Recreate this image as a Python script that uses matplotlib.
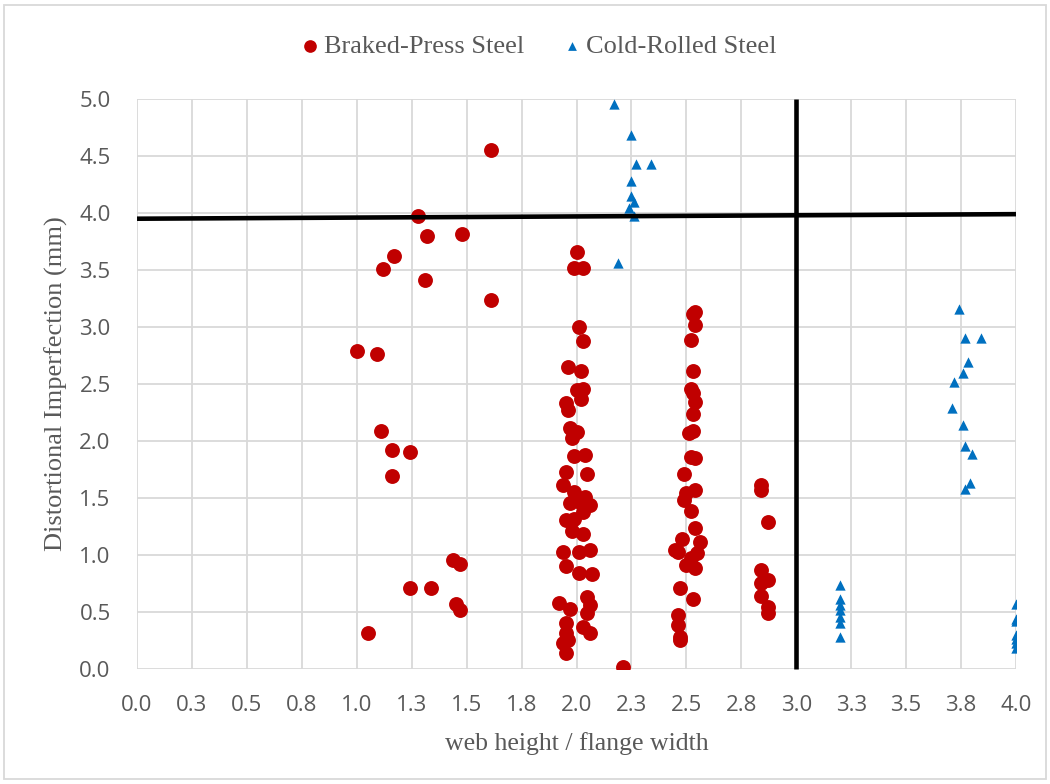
import matplotlib
matplotlib.use("Agg")
import matplotlib.pyplot as plt
from matplotlib.patches import Rectangle

# Braked-press steel specimens: (web height / flange width, distortional imperfection in mm)
braked_x = [1.00, 1.05, 1.09, 1.11, 1.12, 1.16, 1.16, 1.17, 1.24, 1.24, 1.28, 1.32, 1.31,
            1.34, 1.44, 1.45, 1.47, 1.47, 1.48, 1.61, 1.61, 2.21,
            2.00, 1.99, 2.03, 2.01, 2.03, 1.96, 2.02, 2.00, 2.03, 2.02, 1.95, 1.96, 1.97,
            2.00, 1.98, 1.99, 2.04, 1.95, 2.05, 1.94, 1.99, 2.04, 1.97, 2.02, 2.06, 2.03,
            1.95, 1.99, 1.98, 2.03, 1.94, 2.01, 2.06, 1.95, 2.01, 2.07, 2.05, 2.06, 1.92,
            1.97, 2.05, 1.95, 1.95, 2.03, 2.06, 1.96, 1.94, 1.95,
            2.53, 2.54, 2.54, 2.52, 2.53, 2.52, 2.53, 2.54, 2.53, 2.51, 2.53, 2.52, 2.54,
            2.49, 2.54, 2.50, 2.49, 2.52, 2.54, 2.48, 2.56, 2.45, 2.46, 2.55, 2.52, 2.50,
            2.54, 2.47, 2.53, 2.46, 2.46, 2.47, 2.47,
            2.84, 2.84, 2.87, 2.84, 2.87, 2.84, 2.84, 2.87, 2.87]
braked_y = [2.79, 0.32, 2.76, 2.09, 3.51, 1.92, 1.69, 3.62, 1.90, 0.71, 3.97, 3.80, 3.41,
            0.71, 0.96, 0.57, 0.92, 0.52, 3.82, 4.55, 3.24, 0.02,
            3.66, 3.52, 3.52, 3.00, 2.88, 2.65, 2.61, 2.45, 2.46, 2.37, 2.33, 2.27, 2.11,
            2.08, 2.03, 1.87, 1.88, 1.73, 1.71, 1.61, 1.55, 1.51, 1.46, 1.46, 1.44, 1.38,
            1.31, 1.32, 1.21, 1.18, 1.03, 1.03, 1.04, 0.90, 0.84, 0.83, 0.63, 0.56, 0.58,
            0.53, 0.49, 0.40, 0.32, 0.37, 0.32, 0.25, 0.23, 0.14,
            3.11, 3.13, 3.02, 2.89, 2.61, 2.46, 2.42, 2.34, 2.24, 2.07, 2.09, 1.86, 1.85,
            1.71, 1.57, 1.54, 1.48, 1.39, 1.24, 1.14, 1.11, 1.04, 1.03, 1.02, 0.97, 0.91,
            0.89, 0.71, 0.61, 0.47, 0.39, 0.28, 0.25,
            1.61, 1.57, 1.29, 0.87, 0.78, 0.75, 0.64, 0.54, 0.49]

# Cold-rolled steel specimens
cold_x = [2.17, 2.25, 2.27, 2.34, 2.25, 2.25, 2.26, 2.24, 2.26, 2.19,
          3.20, 3.20, 3.20, 3.20, 3.20, 3.20, 3.20,
          3.74, 3.77, 3.84, 3.78, 3.76, 3.72, 3.71, 3.76, 3.77, 3.80, 3.79, 3.77,
          4.00, 4.00, 4.00, 4.00, 4.00, 4.00, 4.00]
cold_y = [4.96, 4.68, 4.43, 4.43, 4.28, 4.15, 4.10, 4.04, 3.97, 3.56,
          0.74, 0.61, 0.56, 0.52, 0.46, 0.40, 0.28,
          3.16, 2.90, 2.90, 2.69, 2.60, 2.52, 2.29, 2.14, 1.96, 1.89, 1.63, 1.58,
          0.57, 0.44, 0.42, 0.30, 0.26, 0.23, 0.18]

# Limit lines
limit_v_x = [3.0, 3.0]
limit_v_y = [0.0, 5.0]
limit_h_x = [0.0, 4.0]
limit_h_y = [3.95, 3.99]

x_ticks = [i * 0.25 for i in range(17)]
x_tick_labels = ["0.0", "0.3", "0.5", "0.8", "1.0", "1.3", "1.5", "1.8", "2.0",
                 "2.3", "2.5", "2.8", "3.0", "3.3", "3.5", "3.8", "4.0"]
y_ticks = [i * 0.5 for i in range(11)]
y_tick_labels = ["0.0", "0.5", "1.0", "1.5", "2.0", "2.5", "3.0", "3.5", "4.0", "4.5", "5.0"]

RED = "#C00000"
BLUE = "#0070C0"
GRID = "#D9D9D9"
TEXT = "#595959"

fig = plt.figure(figsize=(10.5, 7.84), dpi=100)
ax = fig.add_axes([0.1305, 0.1467, 0.8371, 0.727])

ax.set_xlim(0, 4)
ax.set_ylim(0, 5)
ax.set_xticks(x_ticks)
ax.set_xticklabels(x_tick_labels)
ax.set_yticks(y_ticks)
ax.set_yticklabels(y_tick_labels)
ax.grid(True, color=GRID, linewidth=1.3, zorder=0)
ax.set_axisbelow(True)
for s in ax.spines.values():
    s.set_visible(False)
ax.tick_params(axis="both", length=0, labelcolor=TEXT, labelsize=16)
ax.tick_params(axis="x", pad=19)
ax.tick_params(axis="y", pad=19)
for lab in ax.get_xticklabels() + ax.get_yticklabels():
    lab.set_fontfamily("Open Sans")

ax.scatter(braked_x, braked_y, s=115, marker="o", color=RED, linewidths=0,
           zorder=3, label="Braked-Press Steel")
ax.scatter(cold_x, cold_y, s=55, marker="^", color=BLUE, linewidths=0,
           zorder=3, label="Cold-Rolled Steel")

ax.plot(limit_v_x, limit_v_y, color="black", linewidth=3.3, zorder=4, clip_on=False,
        solid_capstyle="butt")
ax.plot(limit_h_x, limit_h_y, color="black", linewidth=3.3, zorder=4, clip_on=False,
        solid_capstyle="butt")

ax.set_xlabel("web height / flange width", family="Liberation Serif", fontsize=18.5,
              color=TEXT)
ax.xaxis.set_label_coords(0.5, -0.11)
ax.set_ylabel("Distortional Imperfection (mm)", family="Liberation Serif", fontsize=19,
              color=TEXT)
ax.yaxis.set_label_coords(-0.079, 0.5)

handles, labels = ax.get_legend_handles_labels()
leg = fig.legend(handles, labels, loc="center", bbox_to_anchor=(0.511, 0.941), ncol=2,
                 frameon=False, prop={"family": "Liberation Serif", "size": 19},
                 handletextpad=0.05, columnspacing=1.3, handlelength=1.0,
                 markerscale=0.85)
for t in leg.get_texts():
    t.set_color(TEXT)

# Light outer frame around the figure
fig.patches.append(Rectangle((0.004, 0.006), 0.992, 0.987, transform=fig.transFigure,
                             fill=False, edgecolor=GRID, linewidth=1.3))

fig.savefig("out.png", dpi=100)
